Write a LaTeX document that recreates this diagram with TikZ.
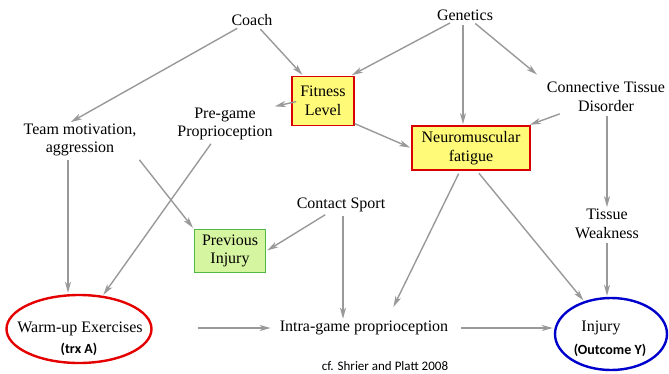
\documentclass[tikz,border=0pt]{standalone}
\usepackage{fontspec}
\setmainfont{Liberation Serif}
\newfontfamily\calib{Carlito}
\usetikzlibrary{arrows.meta,shapes.geometric,calc}
\definecolor{hiyellow}{RGB}{255,250,120}
\definecolor{hilime}{RGB}{214,245,160}
\definecolor{boxgreen}{RGB}{80,185,70}
\begin{document}
\begin{tikzpicture}[x=1pt,y=-1pt,
  every node/.style={font=\fontsize{16}{18.5}\selectfont, align=center, inner sep=1pt},
  arr/.style={draw=black!40, line width=1.4pt, -{Stealth[length=11pt,width=6pt,inset=3pt]}, shorten >=1pt, shorten <=3pt},
  hotbox/.style={draw=red!85!black, line width=1.8pt, fill=hiyellow, inner sep=3pt},
  pribox/.style={draw=boxgreen, line width=1.8pt, fill=hilime, inner sep=3pt},
  lbl/.style={font=\calib\bfseries\fontsize{14}{16}\selectfont}
]
\useasboundingbox (0,0) rectangle (669,373);

% variables
\node (coach) at (252,20) {Coach};
\node (gen) at (465,15) {Genetics};
\node[hotbox, minimum width=62pt, minimum height=49pt] (fit) at (323,101) {Fitness\\Level};
\node (pre) at (225,124) {Pre-game\\Proprioception};
\node (team) at (80,140) {Team motivation,\\aggression};
\node[hotbox, minimum width=118pt, minimum height=44pt] (neuro) at (471,148) {Neuromuscular\\fatigue};
\node (conn) at (606,97) {Connective Tissue\\Disorder};
\node (tw) at (607,224) {Tissue\\Weakness};
\node (cs) at (341,205) {Contact Sport};
\node[pribox, minimum width=71pt, minimum height=43pt] (prev) at (230,251) {Previous\\Injury};
\node[draw=red!90!black, line width=2.4pt, ellipse, minimum width=145pt, minimum height=68pt] (warm) at (79,329) {};
\node at (80,329) {Warm-up Exercises};
\node[lbl] at (79,349) {(trx A)};
\node (intra) at (364,328) {Intra-game proprioception};
\node[draw=blue!80!black, line width=2.4pt, ellipse, minimum width=112pt, minimum height=72pt] (inj) at (611,334) {};
\node at (601,328) {Injury};
\node[lbl] at (610,350) {(Outcome Y)};
\node[anchor=south, font=\calib\fontsize{13}{15}\selectfont] (cite) at (385,372) {cf. Shrier and Platt 2008};

% causal arrows
\draw[arr] (coach) -- ($(team.north)+(-10,0)$);
\draw[arr] (coach) -- ($(fit.north west)+(12,0)$);
\draw[arr] (gen) -- ($(fit.north east)+(-4,0)$);
\draw[arr] (gen.south) ++(-2,0) coordinate (gs) -- (gs |- neuro.north);
\draw[arr] (gen) -- ($(conn.north west)+(-8,-6)$);
\draw[arr] ($(fit.west)+(8,0)$) -- (pre.north east);
\draw[arr] ($(fit.south east)+(-3,-4)$) -- (neuro.west);
\draw[arr] (conn) -- ($(neuro.north east)+(-2,0)$);
\draw[arr] (conn.south) ++(1,0) coordinate (cds) -- (cds |- tw.north);
\draw[arr] (tw.south) -- (tw.south |- inj.north);
\draw[arr] ($(neuro.south)+(-11,0)$) -- ($(intra.north)+(29,-12)$);
\draw[arr] ($(neuro.south)+(6,0)$) -- (inj);
\draw[arr] (team.south) ++(-12,0) coordinate (ts) -- (ts |- warm.north);
\draw[arr] (team.south east) -- (prev.north west);
\draw[arr] (pre) -- (warm);
\draw[arr] (cs) -- (prev.east);
\draw[arr] (cs.south) ++(2,0) coordinate (css) -- (css |- intra.north);
\draw[arr, shorten <=45pt, shorten >=8pt] (warm.east |- intra) -- (intra.west);
\draw[arr, shorten <=12pt] (intra.east) -- (inj.west |- intra.east);
\end{tikzpicture}
\end{document}
